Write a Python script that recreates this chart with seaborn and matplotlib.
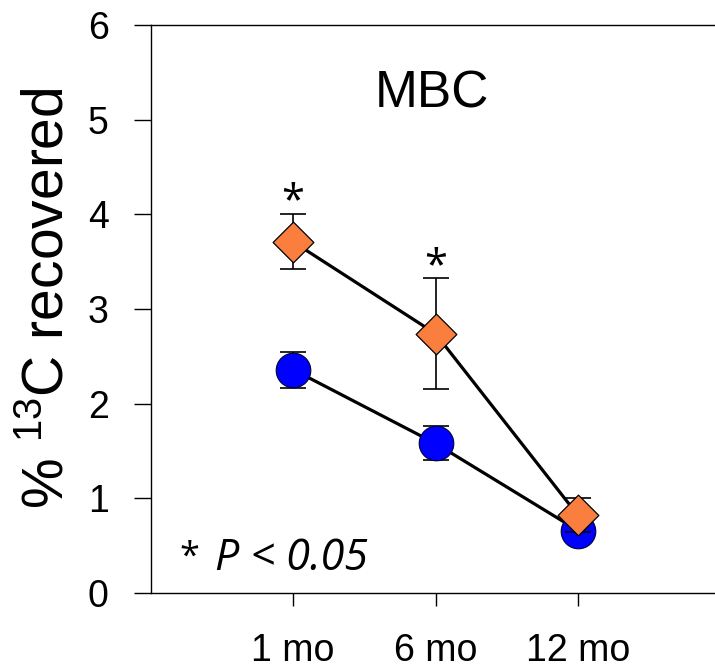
import matplotlib
matplotlib.use("Agg")
import matplotlib.pyplot as plt
import seaborn as sns
import pandas as pd
import numpy as np

# ---- data ----
months = ["1 mo", "6 mo", "12 mo"]
x_pos = [1, 2, 3]
blue_mean = [2.36, 1.58, 0.66]
blue_err = [0.19, 0.18, 0.05]
orange_mean = [3.71, 2.74, 0.82]
orange_err = [0.29, 0.59, 0.18]
sig_x = [1, 2]
sig_y = [4.01, 3.33]
y_ticks = [0, 1, 2, 3, 4, 5, 6]

sns.set_style("ticks")
plt.rcParams['font.family'] = ['Liberation Sans', 'DejaVu Sans']

blue_df = pd.DataFrame({"x": x_pos, "y": blue_mean, "err": blue_err})
orange_df = pd.DataFrame({"x": x_pos, "y": orange_mean, "err": orange_err})

fig = plt.figure(figsize=(7.15, 6.69), dpi=100)
ax = fig.add_axes([150.5 / 715, 76 / 669, 570 / 715, 568 / 669])

BLUE = "#0000FF"
ORANGE = "#FA7E3E"

# blue series
sns.lineplot(data=blue_df, x="x", y="y", color="black", lw=2.3, ax=ax, zorder=2)
ax.errorbar(blue_df["x"], blue_df["y"], yerr=blue_df["err"], fmt="none",
            ecolor="black", elinewidth=1.2, capsize=9.5, capthick=1.2, zorder=2.5)
sns.scatterplot(data=blue_df, x="x", y="y", color=BLUE, marker="o", s=620,
                edgecolor="#000033", linewidth=0.8, ax=ax, zorder=3)

# orange series
sns.lineplot(data=orange_df, x="x", y="y", color="black", lw=2.3, ax=ax, zorder=4)
ax.errorbar(orange_df["x"], orange_df["y"], yerr=orange_df["err"], fmt="none",
            ecolor="black", elinewidth=1.2, capsize=9.5, capthick=1.2, zorder=4.5)
sns.scatterplot(data=orange_df, x="x", y="y", color=ORANGE, marker="D", s=430,
                edgecolor="black", linewidth=0.9, ax=ax, zorder=5)

# significance asterisks
for sx, sy in zip(sig_x, sig_y):
    ax.text(sx, sy, "*", ha="center", va="baseline", fontsize=30,
            family=["Open Sans", "DejaVu Sans"], color="black", zorder=6)

ax.text(1.975, 5.13, "MBC", ha="center", va="baseline", fontsize=37, color="black")

ax.text(0.27, 0.28, "*", ha="center", va="baseline", fontsize=26,
        family=["Open Sans", "DejaVu Sans"], color="black")
ax.text(0.45, 0.24, "P < 0.05", ha="left", va="baseline", fontsize=31,
        style="italic", family=["Open Sans", "DejaVu Sans"], color="black")

ax.set_xlim(0, 4)
ax.set_ylim(0, 6)
ax.set_yticks(y_ticks)
ax.set_yticklabels([str(t) for t in y_ticks])
ax.set_xticks(x_pos)
ax.set_xticklabels(months)
ax.set_xlabel("")
ax.set_ylabel(r"% $\mathregular{^{13}}$C recovered", fontsize=41, color="black")
ax.yaxis.label.set_va("center")
ax.yaxis.set_label_coords((49 - 150.5) / 570, 0.52)

ax.tick_params(axis="y", direction="out", length=12, width=1.0, pad=18,
               labelsize=27, colors="black")
ax.tick_params(axis="x", direction="out", length=9.5, width=1.0, pad=19,
               labelsize=27, colors="black")
for side in ["left", "bottom", "top", "right"]:
    ax.spines[side].set_visible(True)
    ax.spines[side].set_linewidth(1.0)
    ax.spines[side].set_color("black")

fig.savefig("out.png", dpi=100)
